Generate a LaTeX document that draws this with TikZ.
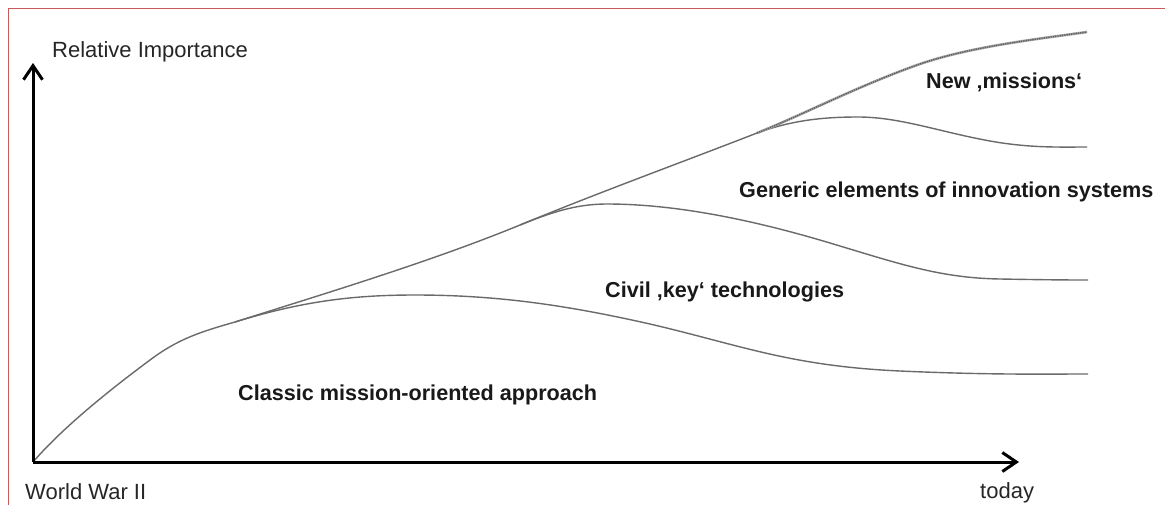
\documentclass[tikz,border=0pt]{standalone}
\usepackage{fontspec}
\setmainfont{Liberation Sans}
\usetikzlibrary{arrows.meta}
\definecolor{frame}{HTML}{C8585A}
\definecolor{curve}{HTML}{6A6A6A}
\tikzset{
  axis/.style={line width=3pt, black, -{Straight Barb[length=14pt,width=19pt,line width=3pt]}},
  curveline/.style={curve, line width=1.4pt},
  newline/.style={line width=2.6pt, color=gray!70},
  newdots/.style={line width=1.3pt, color=black!65, densely dotted},
  lbl/.style={inner sep=0pt, text=black!85, font=\fontsize{22}{26}\selectfont},
  blbl/.style={inner sep=0pt, text=black!90, font=\fontsize{21.6}{26}\selectfont\bfseries},
}
\begin{document}
\begin{tikzpicture}[x=1pt,y=-1pt]
\useasboundingbox (0,0) rectangle (1165,504);
\clip (0,0) rectangle (1165,504);
\fill[white] (0,0) rectangle (1165,504);
% frame
\draw[frame, line width=1.4pt] (1170,8.5) -- (8.5,8.5) -- (8.5,510);
% named points
\coordinate (O) at (33,462);
\coordinate (Ytop) at (33,63);
\coordinate (Xend) at (1019,462);
\coordinate (K) at (150,360);
\coordinate (B1) at (235,322);
\coordinate (B2) at (520,225);
\coordinate (B3) at (757,133);
\coordinate (E1) at (1088,374);
\coordinate (E2) at (1088,280);
\coordinate (E3) at (1087,147);
\coordinate (E4) at (1087,32);
% trunk
\draw[curveline] (O) .. controls (65,425) and (115,386) .. (K)
  .. controls (178,339) and (200,332) .. (B1)
  .. controls (320,295) and (430,262) .. (B2)
  .. controls (600,192) and (680,163) .. (B3);
% classic
\draw[curveline] (B1) .. controls (300,302) and (350,295) .. (415,295)
  .. controls (500,295) and (570,306) .. (650,324)
  .. controls (740,345) and (790,366) .. (900,371)
  .. controls (990,375) and (1040,374) .. (E1);
% civil
\draw[curveline] (B2) .. controls (550,213) and (575,204) .. (607,204)
  .. controls (680,204) and (760,222) .. (830,243)
  .. controls (900,264) and (940,278) .. (1000,279)
  .. controls (1040,279.7) and (1060,280) .. (E2);
% generic
\draw[curveline] (B3) .. controls (790,121) and (820,117) .. (858,117)
  .. controls (900,117) and (940,132) .. (990,141)
  .. controls (1030,148.2) and (1060,147) .. (E3);
% new missions
\draw[newline] (B3) .. controls (800,116) and (860,85) .. (920,64)
  .. controls (970,47) and (1030,40) .. (E4);
\draw[newdots] (B3) .. controls (800,116) and (860,85) .. (920,64)
  .. controls (970,47) and (1030,40) .. (E4);
% axes
\draw[axis] (O) -- (Ytop);
\draw[axis] (O) -- (Xend);
% labels
\node[lbl, anchor=base west] (yl) at (52,57) {Relative Importance};
\node[lbl, anchor=base west] (ww) at (25,499) {World War II};
\node[lbl, anchor=base west] (td) at (980,498) {today};
\node[blbl, anchor=base west] (nm) at (926,88) {New ‚missions‘};
\node[blbl, anchor=base west] (ge) at (739,197) {Generic elements of innovation systems};
\node[blbl, anchor=base west] (ck) at (605,297) {Civil ‚key‘ technologies};
\node[blbl, anchor=base west] (cm) at (238,400) {Classic mission-oriented approach};
\end{tikzpicture}
\end{document}
